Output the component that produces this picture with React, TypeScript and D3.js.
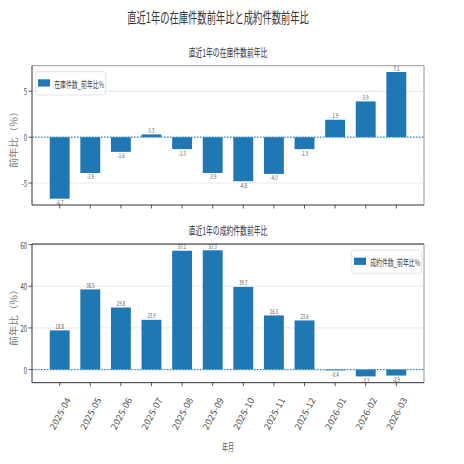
import * as d3 from 'd3';

const months = ['2025-04', '2025-05', '2025-06', '2025-07', '2025-08', '2025-09', '2025-10', '2025-11', '2025-12', '2026-01', '2026-02', '2026-03'];
const inventoryYoY = [-6.7, -3.9, -1.6, 0.3, -1.3, -3.9, -4.8, -4.0, -1.3, 1.9, 3.9, 7.1];
const contractYoY = [18.8, 38.5, 29.8, 23.9, 57.1, 57.3, 39.7, 26.0, 23.6, -0.4, -3.3, -2.9];
const inventoryTicks = [-5, 0, 5];
const contractTicks = [0, 20, 40, 60];

const W = 464;
const H = 464;
const FONT = '"Noto Sans CJK JP", "Noto Sans", sans-serif';
const BAR = '#1f77b4';
const left = 32;
const right = 424;

// condensed text helper (reference uses a narrow font)
function Txt({ x, y, t, size, sx = 0.62, anchor = 'middle', rotate = 0, fill = '#333', base = 'auto' }: any) {
  return (
    <text
      transform={`translate(${x},${y}) rotate(${rotate}) scale(${sx},1)`}
      textAnchor={anchor}
      dominantBaseline={base}
      fontSize={size}
      fontFamily={FONT}
      fill={fill}
    >
      {t}
    </text>
  );
}

type PanelProps = {
  values: number[];
  ticks: number[];
  top: number;
  bottom: number;
  title: string;
  legend: string;
  legendPos: 'left' | 'right';
  showXLabels: boolean;
  titleY: number;
};

function Panel({ values, ticks, top, bottom, title, legend, legendPos, showXLabels, titleY }: PanelProps) {
  const x = d3.scaleBand<string>().domain(months).range([left, right]).paddingInner(0.35).paddingOuter(0.58);
  const lo = d3.min(values) as number;
  const hi = d3.max(values) as number;
  const pad = (hi - lo) * 0.05;
  const y = d3.scaleLinear().domain([lo - pad, hi + pad]).range([bottom, top]);
  const bw = x.bandwidth();

  const lx = legendPos === 'left' ? 35.7 : 351.7;
  const ly = legendPos === 'left' ? 71.7 : 250;

  return (
    <g>
      <Txt x={(left + right) / 2} y={titleY} t={title} size={11} fill="#333" />
      {ticks.map(t => (
        <line key={`g${t}`} x1={left} x2={right} y1={y(t)} y2={y(t)} stroke="#e3e3e3" strokeWidth={0.8} />
      ))}
      {values.map((v, i) => (
        <rect
          key={months[i]}
          x={x(months[i])}
          y={y(Math.max(0, v))}
          width={bw}
          height={Math.abs(y(v) - y(0))}
          fill={BAR}
        />
      ))}
      <line x1={left} x2={right} y1={y(0)} y2={y(0)} stroke="#3a8cc8" strokeWidth={1.3} strokeDasharray="1.5,1.5" />
      {values.map((v, i) => (
        <Txt
          key={`l${i}`}
          x={(x(months[i]) as number) + bw / 2}
          y={v >= 0 ? y(v) - 1.5 : y(v) + 6.5}
          t={v.toFixed(1)}
          size={7}
          sx={0.6}
          fill="#555"
        />
      ))}
      {/* spines */}
      <line x1={left} x2={right} y1={top} y2={top} stroke={showXLabels ? '#222' : '#999'} strokeWidth={1} />
      <line x1={right} x2={right} y1={top} y2={bottom} stroke="#999" strokeWidth={1} />
      <line x1={left} x2={left} y1={top} y2={bottom} stroke="#333" strokeWidth={1} />
      <line x1={left} x2={right} y1={bottom} y2={bottom} stroke="#333" strokeWidth={1} />
      {ticks.map(t => (
        <g key={`t${t}`}>
          <line x1={left - 3.5} x2={left} y1={y(t)} y2={y(t)} stroke="#333" strokeWidth={0.8} />
          <Txt x={left - 5} y={y(t)} t={String(t)} size={9} sx={0.65} anchor="end" base="central" fill="#444" />
        </g>
      ))}
      {months.map(m => {
        const cx = (x(m) as number) + bw / 2;
        return (
          <g key={`x${m}`}>
            <line x1={cx} x2={cx} y1={bottom} y2={bottom + 3.5} stroke="#333" strokeWidth={0.8} />
            {showXLabels && (
              <Txt x={cx + 8} y={398} t={m} size={9} sx={1.05} anchor="end" rotate={-62} base="central" fill="#555" />
            )}
          </g>
        );
      })}
      <Txt
        x={13}
        y={(top + bottom) / 2 + 2}
        t="前年比（％）"
        size={9}
        sx={1.15}
        rotate={-90}
        base="central"
        fill="#777"
      />
      <rect x={lx} y={ly} width={70} height={23.3} rx={2} fill="#fff" fillOpacity={0.85} stroke="#ddd" strokeWidth={0.8} />
      <rect x={lx + 2.3} y={ly + 7.6} width={12} height={7.3} fill={BAR} />
      <Txt x={lx + 18.5} y={ly + 11.7} t={legend} size={9.5} sx={0.62} anchor="start" base="central" fill="#444" />
    </g>
  );
}

export default function App() {
  return (
    <svg width={W} height={H} style={{ display: 'block', margin: -8 }}>
      <rect width={W} height={H} fill="#fff" />
      <Txt x={218} y={23} t="直近1年の在庫件数前年比と成約件数前年比" size={15} sx={0.62} fill="#333" />
      <Panel
        values={inventoryYoY}
        ticks={inventoryTicks}
        top={65.7}
        bottom={205}
        title="直近1年の在庫件数前年比"
        legend="在庫件数_前年比%"
        legendPos="left"
        showXLabels={false}
        titleY={56.5}
      />
      <Panel
        values={contractYoY}
        ticks={contractTicks}
        top={244}
        bottom={382.7}
        title="直近1年の成約件数前年比"
        legend="成約件数_前年比%"
        legendPos="right"
        showXLabels={true}
        titleY={234.5}
      />
      <Txt x={228} y={446} t="年月" size={10} sx={0.6} base="central" fill="#555" />
    </svg>
  );
}
